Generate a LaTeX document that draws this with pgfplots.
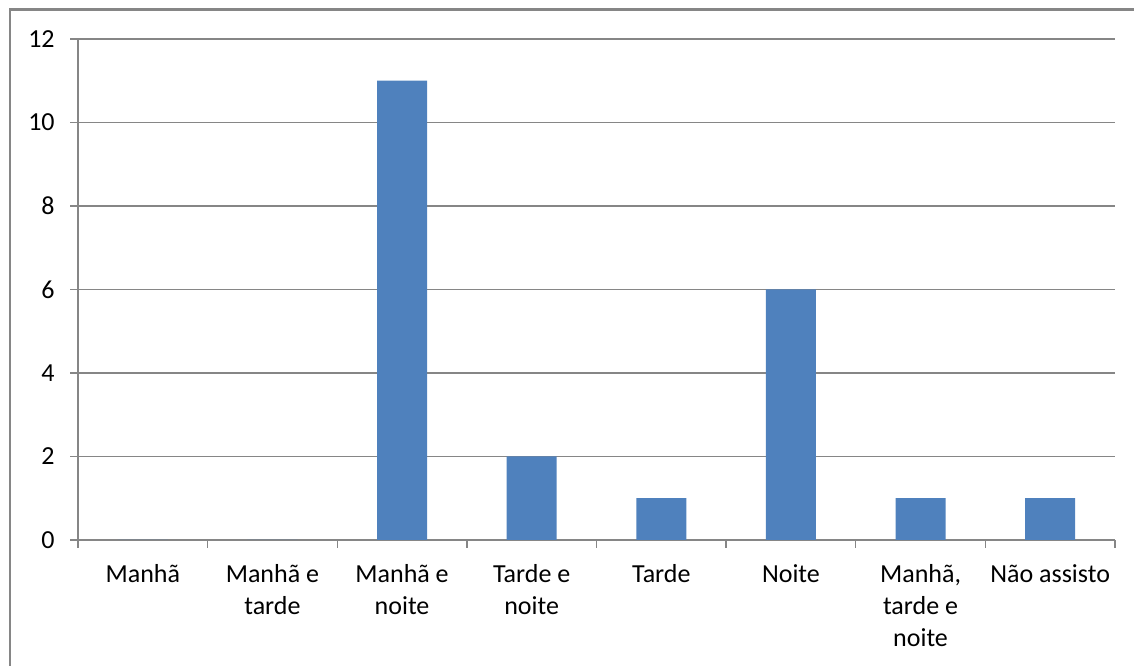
\documentclass[border=0pt]{standalone}
\usepackage{fontspec}
\setmainfont{Carlito}
\usepackage{pgfplots}
\pgfplotsset{compat=1.18}
\definecolor{barblue}{HTML}{4F81BD}
\definecolor{linegray}{HTML}{868686}

\begin{document}
\begin{tikzpicture}
% canvas of 850.5pt x 499.5pt
\useasboundingbox (0pt,0pt) rectangle (850.5pt,499.5pt);
% chart frame (left and top edges)
\draw[linegray, line width=1.9pt] (7.5pt,-5pt) -- (7.5pt,492.4pt) -- (855pt,492.4pt);
\begin{axis}[
  at={(58.5pt,94.5pt)}, anchor=south west,
  scale only axis, width=777.75pt, height=375.75pt,
  xmin=-0.5, xmax=7.5, ymin=0, ymax=12,
  ytick={0,2,...,12},
  xtick={-0.5,0.5,...,7.5},
  xticklabels={},
  extra x ticks={0,1,2,3,4,5,6,7},
  extra x tick labels={Manhã,{Manhã e\\tarde},{Manhã e\\noite},{Tarde e\\noite},Tarde,Noite,{Manhã,\\tarde e\\noite},Não assisto},
  extra x tick style={major tick length=0pt, grid=none},
  axis lines=left,
  axis line style={-, draw=linegray, line width=1pt},
  tick style={draw=linegray, line width=1pt},
  tick align=outside,
  major tick length=6pt,
  ymajorgrids,
  grid style={draw=linegray, line width=1pt},
  xticklabel style={align=center, font=\fontsize{19.5}{24}\selectfont, yshift=-15pt},
  yticklabel style={font=\fontsize{19.5}{24}\selectfont, xshift=-8pt},
  /pgf/number format/assume math mode=true,
  ybar, bar width=37.5pt,
]
\addplot[fill=barblue, draw=none] coordinates {
  (0,0) (1,0) (2,11) (3,2) (4,1) (5,6) (6,1) (7,1)
};
\end{axis}
\end{tikzpicture}
\end{document}
